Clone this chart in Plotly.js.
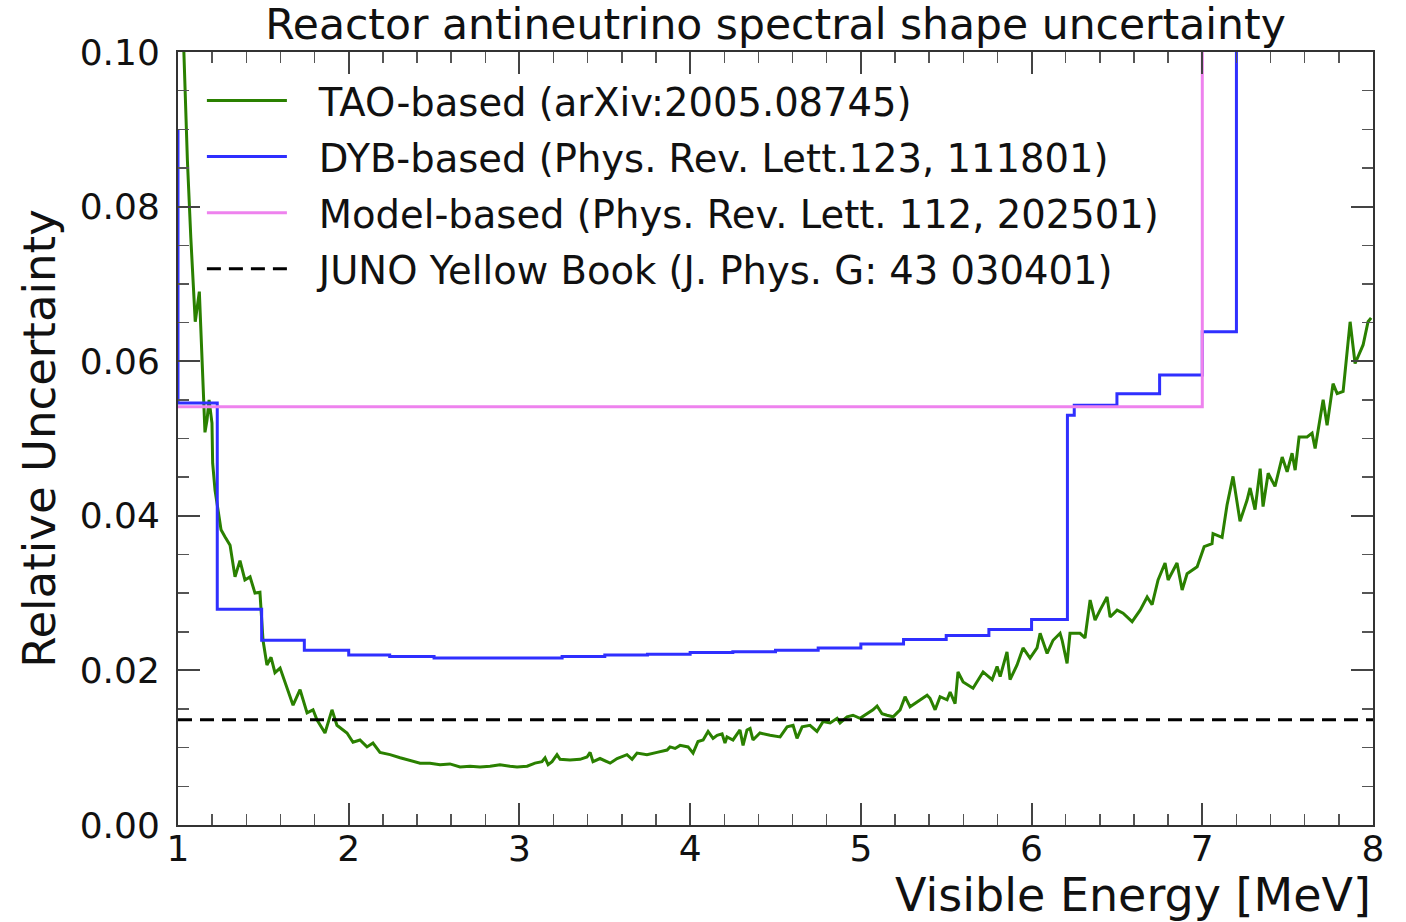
<!DOCTYPE html>
<html>
<head>
<meta charset="utf-8">
<script src="https://cdn.plot.ly/plotly-3.0.1.min.js"></script>
<style>html,body{margin:0;padding:0;background:#fff;}#chart{width:1406px;height:922px;}</style>
</head>
<body>
<div id="chart"></div>
<script>
// TAO-based (arXiv:2005.08745)
const energy_tao = [1.030, 1.055, 1.075, 1.101, 1.125, 1.146, 1.158, 1.170, 1.182, 1.199, 1.203, 1.217, 1.234, 1.252, 1.275, 1.305, 1.334, 1.363, 1.392, 1.422, 1.451, 1.480, 1.498, 1.521, 1.545, 1.568, 1.598, 1.627, 1.674, 1.715, 1.756, 1.791, 1.814, 1.861, 1.902, 1.931, 1.990, 2.025, 2.066, 2.107, 2.142, 2.183, 2.242, 2.301, 2.359, 2.418, 2.476, 2.535, 2.593, 2.652, 2.711, 2.769, 2.828, 2.886, 2.945, 2.986, 3.045, 3.091, 3.132, 3.150, 3.168, 3.191, 3.220, 3.238, 3.296, 3.355, 3.396, 3.414, 3.431, 3.472, 3.531, 3.572, 3.630, 3.660, 3.689, 3.747, 3.806, 3.865, 3.882, 3.912, 3.941, 3.988, 4.017, 4.046, 4.076, 4.105, 4.134, 4.158, 4.187, 4.204, 4.216, 4.251, 4.292, 4.310, 4.333, 4.351, 4.368, 4.409, 4.468, 4.527, 4.568, 4.603, 4.626, 4.656, 4.702, 4.743, 4.779, 4.820, 4.861, 4.878, 4.919, 4.954, 4.995, 5.036, 5.071, 5.095, 5.124, 5.153, 5.189, 5.230, 5.259, 5.288, 5.347, 5.388, 5.405, 5.435, 5.464, 5.505, 5.523, 5.552, 5.569, 5.599, 5.657, 5.716, 5.769, 5.798, 5.816, 5.856, 5.874, 5.915, 5.950, 5.991, 6.032, 6.050, 6.091, 6.126, 6.167, 6.179, 6.208, 6.225, 6.284, 6.313, 6.343, 6.372, 6.401, 6.442, 6.460, 6.501, 6.536, 6.589, 6.636, 6.677, 6.706, 6.741, 6.782, 6.800, 6.852, 6.882, 6.911, 6.970, 7.011, 7.057, 7.063, 7.116, 7.145, 7.180, 7.221, 7.262, 7.280, 7.309, 7.339, 7.356, 7.386, 7.426, 7.468, 7.497, 7.526, 7.544, 7.567, 7.614, 7.643, 7.661, 7.708, 7.731, 7.766, 7.790, 7.825, 7.866, 7.895, 7.942, 7.971, 7.989];
const unc_tao = [0.1030, 0.0860, 0.0760, 0.0651, 0.0690, 0.0560, 0.0508, 0.0524, 0.0550, 0.0520, 0.0468, 0.0433, 0.0411, 0.0382, 0.0373, 0.0362, 0.0321, 0.0342, 0.0317, 0.0321, 0.0300, 0.0301, 0.0239, 0.0207, 0.0217, 0.0197, 0.0203, 0.0185, 0.0155, 0.0175, 0.0145, 0.0149, 0.0136, 0.0119, 0.0149, 0.0129, 0.0119, 0.0107, 0.0110, 0.0101, 0.0106, 0.0094, 0.0091, 0.0087, 0.0084, 0.0080, 0.0080, 0.0078, 0.0079, 0.0075, 0.0076, 0.0075, 0.0076, 0.0078, 0.0076, 0.0075, 0.0076, 0.0080, 0.0082, 0.0087, 0.0078, 0.0082, 0.0091, 0.0085, 0.0084, 0.0085, 0.0088, 0.0094, 0.0082, 0.0086, 0.0080, 0.0086, 0.0091, 0.0085, 0.0093, 0.0091, 0.0094, 0.0097, 0.0101, 0.0099, 0.0103, 0.0101, 0.0093, 0.0108, 0.0110, 0.0121, 0.0112, 0.0116, 0.0118, 0.0106, 0.0114, 0.0110, 0.0123, 0.0103, 0.0123, 0.0125, 0.0110, 0.0119, 0.0116, 0.0114, 0.0127, 0.0129, 0.0112, 0.0127, 0.0129, 0.0121, 0.0134, 0.0132, 0.0138, 0.0132, 0.0140, 0.0142, 0.0138, 0.0144, 0.0149, 0.0154, 0.0144, 0.0142, 0.0140, 0.0149, 0.0166, 0.0153, 0.0162, 0.0168, 0.0164, 0.0149, 0.0166, 0.0162, 0.0172, 0.0157, 0.0198, 0.0185, 0.0177, 0.0198, 0.0188, 0.0205, 0.0192, 0.0224, 0.0188, 0.0207, 0.0229, 0.0216, 0.0229, 0.0248, 0.0222, 0.0239, 0.0248, 0.0239, 0.0209, 0.0248, 0.0248, 0.0242, 0.0291, 0.0265, 0.0278, 0.0295, 0.0269, 0.0278, 0.0274, 0.0263, 0.0278, 0.0295, 0.0285, 0.0317, 0.0339, 0.0317, 0.0339, 0.0304, 0.0325, 0.0334, 0.0360, 0.0364, 0.0377, 0.0372, 0.0414, 0.0451, 0.0393, 0.0420, 0.0436, 0.0408, 0.0461, 0.0412, 0.0455, 0.0438, 0.0476, 0.0457, 0.0481, 0.0459, 0.0502, 0.0502, 0.0507, 0.0487, 0.0550, 0.0517, 0.0571, 0.0558, 0.0561, 0.0651, 0.0597, 0.0621, 0.0651, 0.0656];

// DYB-based (Phys. Rev. Lett.123, 111801) - bin edges and step values
const energy_dyb = [1.00, 1.00, 1.23, 1.49, 1.74, 2.00, 2.24, 2.50, 2.75, 3.00, 3.25, 3.50, 3.75, 4.00, 4.25, 4.50, 4.75, 5.00, 5.25, 5.50, 5.75, 6.00, 6.21, 6.25, 6.50, 6.75, 7.00, 7.20];
const unc_dyb = [0.0900, 0.0546, 0.0279, 0.0239, 0.0226, 0.0220, 0.0218, 0.0216, 0.0216, 0.0216, 0.0218, 0.0220, 0.0221, 0.0223, 0.0224, 0.0226, 0.0229, 0.0234, 0.0240, 0.0245, 0.0253, 0.0266, 0.0530, 0.0543, 0.0558, 0.0582, 0.0638, 0.1300];

// Model-based (Phys. Rev. Lett. 112, 202501)
const energy_model = [1.00, 7.00, 7.00];
const unc_model = [0.0541, 0.0541, 0.1300];

// JUNO Yellow Book (J. Phys. G: 43 030401)
const energy_juno = [1.00, 8.00];
const unc_juno = [0.0136, 0.0136];

const seriesNames = [
  "TAO-based (arXiv:2005.08745)",
  "DYB-based (Phys. Rev. Lett.123, 111801)",
  "Model-based (Phys. Rev. Lett. 112, 202501)",
  "JUNO Yellow Book (J. Phys. G: 43 030401)"
];
const xTickVals = [1, 2, 3, 4, 5, 6, 7, 8];
const yTickVals = [0.00, 0.02, 0.04, 0.06, 0.08, 0.10];

const FONT = "DejaVu Sans, Verdana, sans-serif";
const GAP = "\u2002\u2009";

const traces = [
  {x: energy_tao, y: unc_tao, name: GAP + seriesNames[0], mode: "lines", legendgroup: "a",
   line: {color: "#2a8000", width: 3}},
  {x: energy_dyb, y: unc_dyb, name: GAP + seriesNames[1], mode: "lines", legendgroup: "b",
   line: {color: "#2f2fff", width: 3, shape: "hv"}},
  {x: energy_model, y: unc_model, name: GAP + seriesNames[2], mode: "lines", legendgroup: "c",
   line: {color: "#ee82ee", width: 3}},
  {x: energy_juno, y: unc_juno, name: GAP + seriesNames[3], mode: "lines", legendgroup: "d",
   line: {color: "#000000", width: 3, dash: "14px,8px"}}
];

const axisCommon = {
  showgrid: false, zeroline: false, showline: true, linecolor: "#333", linewidth: 2,
  mirror: "allticks", ticks: "inside", ticklen: 22, tickwidth: 2, tickcolor: "#444",
  tickfont: {family: FONT, size: 36, color: "#111"}
};

const layout = {
  width: 1406, height: 922,
  margin: {l: 178, r: 33, t: 52, b: 97},
  paper_bgcolor: "#ffffff", plot_bgcolor: "#ffffff",
  font: {family: FONT, color: "#111"},
  title: {text: "Reactor antineutrino spectral shape uncertainty", font: {family: FONT, size: 42.5, color: "#111"},
          x: 0.5, xref: "paper", xanchor: "center", y: 0.974, yref: "container", yanchor: "middle"},
  showlegend: true,
  legend: {x: 0.02, y: 0.978, xanchor: "left", yanchor: "top", bgcolor: "rgba(0,0,0,0)",
           font: {family: FONT, size: 38.5, color: "#111"}, itemwidth: 80, tracegroupgap: 3},
  xaxis: Object.assign({}, axisCommon, {
    range: [1, 8], tickvals: xTickVals, ticktext: xTickVals.map(String),
    minor: {dtick: 0.2, ticks: "inside", ticklen: 11, tickwidth: 1.5, tickcolor: "#555"},
    ticklabelstandoff: -9
  }),
  yaxis: Object.assign({}, axisCommon, {
    range: [0, 0.1], tickvals: yTickVals, ticktext: yTickVals.map(v => v.toFixed(2)),
    minor: {dtick: 0.005, ticks: "inside", ticklen: 11, tickwidth: 1.5, tickcolor: "#555"},
    ticklabelstandoff: 9,
    title: {text: "Relative Uncertainty", font: {family: FONT, size: 45, color: "#111"}, standoff: 10}
  }),
  annotations: [{
    text: "Visible Energy [MeV]", xref: "paper", yref: "paper", x: 1, y: -0.0906,
    xanchor: "right", yanchor: "middle", showarrow: false,
    font: {family: FONT, size: 46, color: "#111"}
  }]
};

Plotly.newPlot("chart", traces, layout, {displayModeBar: false, staticPlot: true});
</script>
</body>
</html>
